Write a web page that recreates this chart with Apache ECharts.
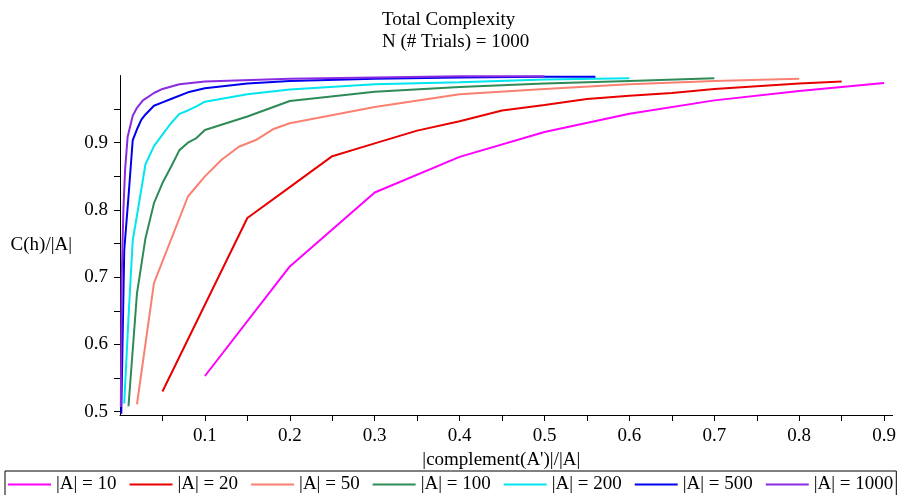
<!DOCTYPE html>
<html>
<head>
<meta charset="utf-8">
<script src="https://cdn.jsdelivr.net/npm/echarts@6/dist/echarts.min.js"></script>
<style>
  html, body { margin: 0; padding: 0; background: #fff; }
  #chart { width: 899px; height: 495px; }
</style>
</head>
<body>
<div id="chart"></div>
<script>
// 数据
const x10 = [0.1, 0.2, 0.3, 0.4, 0.5, 0.6, 0.7, 0.8, 0.9]
const y10 = [0.553, 0.716, 0.826, 0.879, 0.916, 0.943, 0.963, 0.977, 0.989]

const x20 = [0.05, 0.1, 0.15, 0.2, 0.25, 0.3, 0.35, 0.4, 0.45, 0.5, 0.55, 0.6, 0.65, 0.7, 0.75, 0.8, 0.85]
const y20 = [0.53, 0.659, 0.788, 0.834, 0.88, 0.899, 0.918, 0.932, 0.948, 0.956, 0.965, 0.97, 0.974, 0.98, 0.984, 0.988, 0.991]

const x50 = [0.02, 0.04, 0.08, 0.1, 0.12, 0.14, 0.16, 0.18, 0.2, 0.3, 0.4, 0.5, 0.6, 0.7, 0.8]
const y50 = [0.511, 0.691, 0.82, 0.85, 0.875, 0.894, 0.904, 0.92, 0.929, 0.953, 0.972, 0.98, 0.987, 0.992, 0.995]

const x100 = [0.01, 0.02, 0.03, 0.04, 0.05, 0.06, 0.07, 0.08, 0.09, 0.1, 0.15, 0.2, 0.3, 0.4, 0.5, 0.6, 0.7]
const y100 = [0.508, 0.676, 0.758, 0.81, 0.84, 0.864, 0.889, 0.9, 0.907, 0.919, 0.939, 0.962, 0.976, 0.983, 0.988, 0.992, 0.996]

const x200 = [0.005, 0.01, 0.015, 0.02, 0.03, 0.04, 0.05, 0.06, 0.07, 0.08, 0.09, 0.1, 0.15, 0.2, 0.3, 0.4, 0.5, 0.6]
const y200 = [0.512, 0.64, 0.755, 0.792, 0.868, 0.895, 0.912, 0.929, 0.943, 0.948, 0.954, 0.961, 0.972, 0.979, 0.987, 0.99, 0.994, 0.996]

const x500 = [0.0015, 0.005, 0.01, 0.015, 0.02, 0.025, 0.03, 0.04, 0.05, 0.06, 0.08, 0.1, 0.15, 0.2, 0.3, 0.4, 0.5, 0.56]
const y500 = [0.497, 0.74, 0.82, 0.904, 0.92, 0.934, 0.942, 0.955, 0.96, 0.965, 0.975, 0.981, 0.988, 0.992, 0.995, 0.997, 0.998, 0.998]

const x1000 = [0.001, 0.002, 0.004, 0.006, 0.009, 0.015, 0.02, 0.027, 0.04, 0.05, 0.07, 0.1, 0.2, 0.3, 0.4, 0.5]
const y1000 = [0.507, 0.7, 0.8, 0.86, 0.909, 0.94, 0.952, 0.963, 0.974, 0.98, 0.987, 0.991, 0.995, 0.997, 0.999, 0.999]

const xLabels = [0.1, 0.2, 0.3, 0.4, 0.5, 0.6, 0.7, 0.8, 0.9]
const xTicks = [0.05, 0.1, 0.15, 0.2, 0.25, 0.3, 0.35, 0.4, 0.45, 0.5, 0.55, 0.6, 0.65, 0.7, 0.75, 0.8, 0.85, 0.9]
const yLabels = [0.5, 0.6, 0.7, 0.8, 0.9]
const yTicks = [0.5, 0.55, 0.6, 0.65, 0.7, 0.75, 0.8, 0.85, 0.9, 0.95]

const names = ['|A| = 10', '|A| = 20', '|A| = 50', '|A| = 100', '|A| = 200', '|A| = 500', '|A| = 1000']
const colors = ['#ff00ff', '#e80000', '#fa8072', '#2e8b57', '#00e5ee', '#0000ee', '#8a2be2']
const xs = [x10, x20, x50, x100, x200, x500, x1000]
const ys = [y10, y20, y50, y100, y200, y500, y1000]

const font = 'Liberation Serif'

const myChart = echarts.init(document.getElementById('chart'))
myChart.setOption({
  animation: false,
  title: {
    text: 'Total Complexity\nN (# Trials) = 1000',
    left: 377,
    top: 4,
    textAlign: 'left',
    textStyle: {
      fontFamily: font,
      fontSize: 19,
      fontWeight: 'normal',
      color: '#000',
      lineHeight: 22,
      align: 'left'
    }
  },
  legend: {
    data: names,
    left: 5,
    top: 471,
    padding: [4, 3],
    itemGap: 13,
    itemWidth: 43,
    itemHeight: 2,
    icon: 'rect',
    borderColor: '#000',
    borderWidth: 1,
    textStyle: { fontFamily: font, fontSize: 19, color: '#000' }
  },
  grid: {
    left: 120,
    right: 3,
    top: 75.5,
    bottom: 80
  },
  xAxis: {
    type: 'value',
    min: 0,
    max: 0.91,
    name: "|complement(A')|/|A|",
    nameLocation: 'middle',
    nameGap: 36,
    nameTextStyle: { fontFamily: font, fontSize: 19, color: '#000', padding: [0, 10, 0, 0] },
    axisLine: { show: true, lineStyle: { color: '#000', width: 1 } },
    axisTick: { show: true, length: 6, customValues: xTicks, lineStyle: { color: '#000' } },
    axisLabel: { customValues: xLabels, margin: 12, fontFamily: font, fontSize: 19, color: '#000' },
    splitLine: { show: false }
  },
  yAxis: {
    type: 'value',
    min: 0.495,
    max: 1.0,
    name: 'C(h)/|A|',
    nameLocation: 'middle',
    nameRotate: 0,
    nameGap: 48,
    nameMoveOverlap: false,
    nameTextStyle: { fontFamily: font, fontSize: 19, color: '#000' },
    axisLine: { show: true, lineStyle: { color: '#000', width: 1 } },
    axisTick: { show: true, length: 6, customValues: yTicks, lineStyle: { color: '#000' } },
    axisLabel: { customValues: yLabels, margin: 12, fontFamily: font, fontSize: 19, color: '#000' },
    splitLine: { show: false }
  },
  series: names.map((name, i) => ({
    name: name,
    type: 'line',
    showSymbol: false,
    color: colors[i],
    lineStyle: { width: 2 },
    data: xs[i].map((x, j) => [x, ys[i][j]])
  }))
})
</script>
</body>
</html>
